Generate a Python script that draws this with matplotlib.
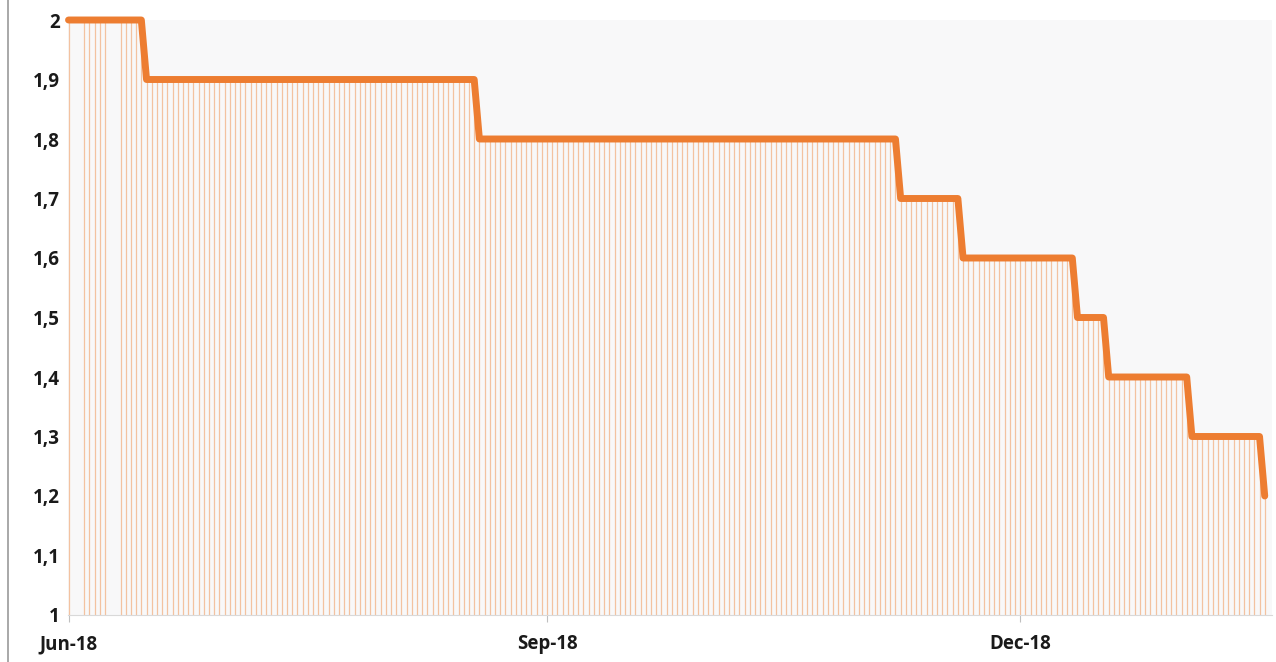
import numpy as np
import pandas as pd
import matplotlib
matplotlib.use("Agg")
import matplotlib.pyplot as plt
import matplotlib.dates as mdates
from matplotlib.lines import Line2D

# --- data: the rate held flat between change dates ---
seg_start = ["2018-06-01", "2018-06-16", "2018-08-19", "2018-11-08", "2018-11-20",
             "2018-12-12", "2018-12-18", "2019-01-03", "2019-01-17"]
seg_end = ["2018-06-15", "2018-08-18", "2018-11-07", "2018-11-19", "2018-12-11",
           "2018-12-17", "2019-01-02", "2019-01-16", "2019-01-17"]
seg_value = [2.0, 1.9, 1.8, 1.7, 1.6, 1.5, 1.4, 1.3, 1.2]
missing_days = ["2018-06-02", "2018-06-03", "2018-06-09", "2018-06-10"]

y_ticks = [1, 1.1, 1.2, 1.3, 1.4, 1.5, 1.6, 1.7, 1.8, 1.9, 2]
x_ticks = ["2018-06-01", "2018-09-01", "2018-12-01"]
x_labels = ["Jun-18", "Sep-18", "Dec-18"]

ORANGE = "#ed7d31"
DROP = "#f3c2a0"

# one row per day of each segment
parts = []
for s, e, v in zip(seg_start, seg_end, seg_value):
    d = pd.date_range(s, e, freq="D")
    parts.append(pd.Series(v, index=d))
series = pd.concat(parts)
series = series.drop(pd.to_datetime(missing_days))

fig = plt.figure(figsize=(12.76, 6.62), dpi=100, facecolor="white")
ax = fig.add_axes([68 / 1276, 47 / 662, (1272 - 68) / 1276, (615 - 20) / 662])
ax.set_facecolor("#f8f8f9")

x = mdates.date2num(series.index.to_pydatetime())
ax.vlines(x, 1, series.values, color=DROP, linewidth=0.9, zorder=1)
ax.plot(x, series.values, color=ORANGE, linewidth=5.0,
        solid_joinstyle="round", solid_capstyle="round", zorder=3, clip_on=False)

ax.set_xlim(mdates.date2num(pd.Timestamp("2018-06-01")) - 0.1,
            mdates.date2num(pd.Timestamp("2019-01-18")) + 0.4)
ax.set_ylim(1, 2)

ax.set_yticks(y_ticks)
ax.set_yticklabels([f"{t:g}".replace(".", ",") for t in y_ticks])
ax.set_xticks(mdates.date2num(pd.to_datetime(x_ticks).to_pydatetime()))
ax.set_xticklabels(x_labels)

for lab in ax.get_yticklabels() + ax.get_xticklabels():
    lab.set_fontfamily(["Open Sans", "DejaVu Sans"])
    lab.set_fontweight("bold")
    lab.set_fontsize(13.5)
    lab.set_color("#1a1a1a")

ax.tick_params(axis="y", length=0, pad=6)
ax.tick_params(axis="x", length=5, color="#bfbfbf", width=0.8, pad=9)

for side in ["top", "right", "left"]:
    ax.spines[side].set_visible(False)
ax.spines["bottom"].set_color("#d9d9d9")
ax.spines["bottom"].set_linewidth(0.8)

# thin frame line on the far left of the picture
fig.add_artist(Line2D([7.5 / 1276, 7.5 / 1276], [0, 1], color="#9a9a9a", linewidth=1.2))

fig.savefig("out.png", dpi=100, facecolor="white")
